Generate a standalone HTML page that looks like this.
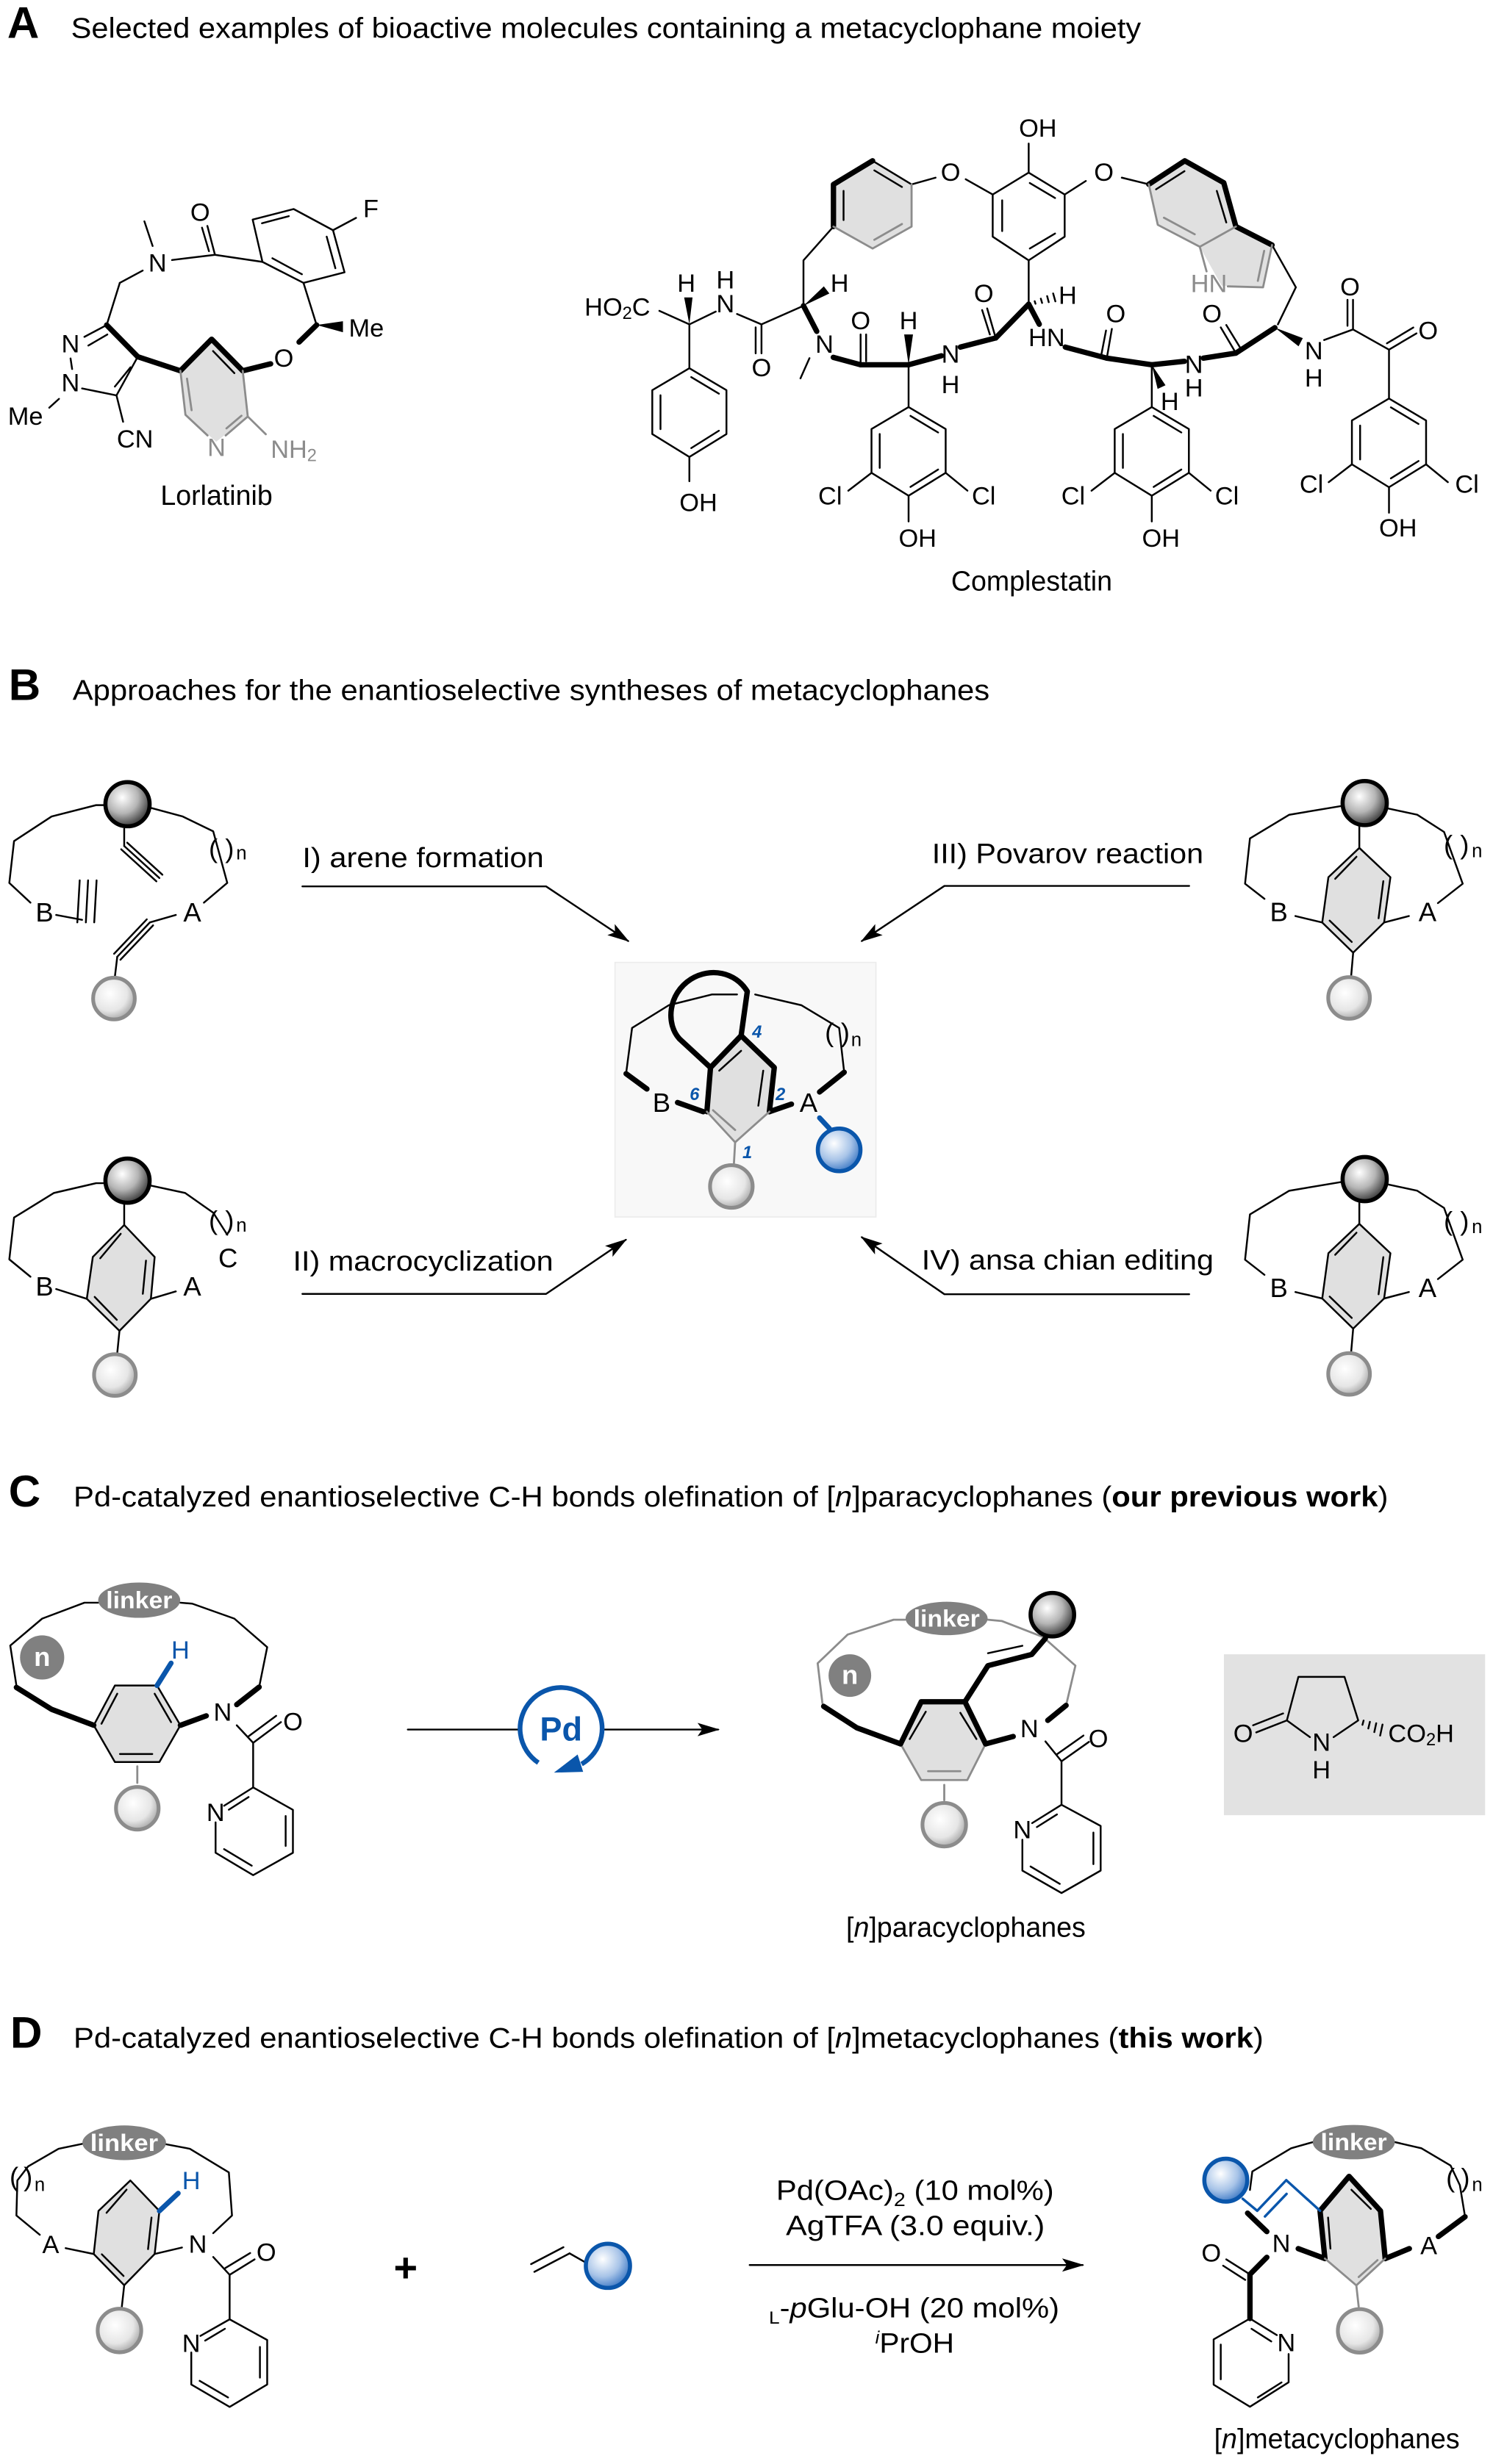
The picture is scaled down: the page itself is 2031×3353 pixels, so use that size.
<!DOCTYPE html>
<html><head><meta charset="utf-8">
<style>
html,body{margin:0;padding:0;background:#fff}
svg{display:block}
text{font-family:"Liberation Sans",Arial,sans-serif;fill:#000}
.k{stroke:#000;stroke-width:1.15;fill:none;stroke-linecap:round;stroke-linejoin:round}
.w{stroke:#000;stroke-width:3.4;fill:none;stroke-linecap:round;stroke-linejoin:round}
.g{stroke:#8c8c8c;stroke-width:1.15;fill:none;stroke-linecap:round;stroke-linejoin:round}
.gw{stroke:#8c8c8c;stroke-width:1.3;fill:none;stroke-linecap:round;stroke-linejoin:round}
.bl{stroke:#0a56ab;stroke-width:1.6;fill:none;stroke-linecap:round;stroke-linejoin:round}
.blw{stroke:#0a56ab;stroke-width:3.2;fill:none;stroke-linecap:round}
.sh{fill:#e0e0e0;stroke:none}
.l{font-size:16px;text-anchor:middle;dominant-baseline:central}
.ls{font-size:16px;text-anchor:start;dominant-baseline:central}
.lg{font-size:16px;text-anchor:middle;dominant-baseline:central;fill:#8c8c8c}
.lb{font-size:17px;text-anchor:middle;dominant-baseline:central}
.ttl{font-size:18px}
.big{font-size:28px;font-weight:bold}
.cap{font-size:17.5px}
.num{font-size:11px;font-weight:bold;font-style:italic;fill:#0a56ab;text-anchor:middle;dominant-baseline:central}
.lk{font-size:15px;font-weight:bold;fill:#fff;text-anchor:middle;dominant-baseline:central}
.bb{fill:url(#gB);stroke:#000;stroke-width:2.6}
.gb{fill:url(#gG);stroke:#8c8c8c;stroke-width:2.4}
.ub{fill:url(#gU);stroke:#0a56ab;stroke-width:2.6}
</style></head><body>
<svg width="2031" height="3353" viewBox="0 0 946 1561.7" preserveAspectRatio="none" xmlns="http://www.w3.org/2000/svg">
<defs>
<radialGradient id="gB" cx="0.38" cy="0.35" r="0.72"><stop offset="0" stop-color="#fff"/><stop offset="0.5" stop-color="#b5b5b5"/><stop offset="1" stop-color="#262626"/></radialGradient>
<radialGradient id="gG" cx="0.4" cy="0.38" r="0.7"><stop offset="0" stop-color="#fff"/><stop offset="0.6" stop-color="#e6e6e6"/><stop offset="1" stop-color="#9a9a9a"/></radialGradient>
<radialGradient id="gU" cx="0.38" cy="0.35" r="0.72"><stop offset="0" stop-color="#fff"/><stop offset="0.55" stop-color="#a8c4e8"/><stop offset="1" stop-color="#2f6fc0"/></radialGradient>
<marker id="ah" markerWidth="14" markerHeight="10" refX="13" refY="5" orient="auto" markerUnits="userSpaceOnUse"><path d="M0,0.8 L14,5 L0,9.2 L3,5 z" fill="#000"/></marker>
</defs>

<!-- ================= TITLES ================= -->
<text x="4.6" y="24" class="big">A</text>
<text x="45" y="24" class="ttl" textLength="678" lengthAdjust="spacingAndGlyphs">Selected examples of bioactive molecules containing a metacyclophane moiety</text>
<text x="5.5" y="443.6" class="big">B</text>
<text x="46" y="443.6" class="ttl" textLength="581" lengthAdjust="spacingAndGlyphs">Approaches for the enantioselective syntheses of metacyclophanes</text>
<text x="5.5" y="954.8" class="big">C</text>
<text x="46.6" y="954.8" class="ttl" textLength="833" lengthAdjust="spacingAndGlyphs">Pd-catalyzed enantioselective C-H bonds olefination of [<tspan font-style="italic">n</tspan>]paracyclophanes (<tspan font-weight="bold">our previous work</tspan>)</text>
<text x="6.5" y="1297.9" class="big">D</text>
<text x="46.6" y="1297.9" class="ttl" textLength="754" lengthAdjust="spacingAndGlyphs">Pd-catalyzed enantioselective C-H bonds olefination of [<tspan font-style="italic">n</tspan>]metacyclophanes (<tspan font-weight="bold">this work</tspan>)</text>

<!-- ================= LORLATINIB ================= -->
<polygon class="sh" points="153.8,235 134.1,215 114.3,235 117.5,262.9 137,280 157,264"/>
<g class="k">
<line x1="91.5" y1="140.3" x2="96.7" y2="155.9"/>
<line x1="109" y1="164.8" x2="136.2" y2="161.5"/>
<line x1="136.2" y1="161.5" x2="131.4" y2="143.2"/>
<line x1="132.4" y1="159.2" x2="128" y2="144.3"/>
<line x1="136.2" y1="161.5" x2="166.3" y2="166"/>
<polygon points="166.3,166 160.1,139.2 186.1,132.5 211,145.9 218.3,172.6 192.3,179.3"/>
<line x1="166" y1="141.5" x2="183" y2="137"/>
<line x1="207" y1="150" x2="212.5" y2="170"/>
<line x1="172.6" y1="163.7" x2="191.3" y2="173.8"/>
<line x1="211" y1="145.9" x2="225.6" y2="138.1"/>
<line x1="192.3" y1="179.3" x2="200.6" y2="206"/>
<line x1="67.6" y1="206" x2="75.9" y2="179.3"/>
<line x1="75.9" y1="179.3" x2="90.4" y2="171.5"/>
<line x1="67.6" y1="206" x2="53.5" y2="213.5"/>
<line x1="68" y1="212" x2="56" y2="219"/>
<line x1="44.7" y1="227.2" x2="45.7" y2="233.9"/>
<line x1="52" y1="246.2" x2="73.8" y2="250.6"/>
<line x1="87.3" y1="226.1" x2="73.8" y2="250.6"/>
<line x1="82.7" y1="232.8" x2="72.8" y2="245"/>
<line x1="37.4" y1="252.8" x2="31.2" y2="258.4"/>
<line x1="73.8" y1="250.6" x2="78" y2="267.3"/>
<line x1="135" y1="222.5" x2="148.5" y2="236.5"/>
</g>
<g class="w">
<line x1="200.6" y1="206" x2="189.5" y2="216.8"/>
<line x1="171.5" y1="230.6" x2="153.8" y2="235"/>
<polyline points="153.8,235 134.1,215 114.3,235"/>
<line x1="114.3" y1="235" x2="87.3" y2="226.1"/>
<line x1="67.6" y1="206" x2="87.3" y2="226.1"/>
</g>
<g class="gw">
<polyline points="114.3,235 117.5,262.9 131.5,276"/>
<polyline points="143,276 157,264 153.8,235"/>
<line x1="118.5" y1="240" x2="121.4" y2="260"/>
<line x1="143.5" y1="271.5" x2="153" y2="263.5"/>
<line x1="157" y1="264" x2="168.4" y2="275.2"/>
</g>
<polygon fill="#000" points="200.6,206 217.3,203.6 217.3,210.6"/>
<text x="99.8" y="167" class="l">N</text>
<text x="126.8" y="134.8" class="l">O</text>
<text x="235" y="132.5" class="l">F</text>
<text x="221" y="208.3" class="ls">Me</text>
<text x="179.8" y="227.2" class="l">O</text>
<text x="137.2" y="283.9" class="lg">N</text>
<text x="171.5" y="285" class="ls" style="fill:#8c8c8c">NH<tspan font-size="11" dy="4">2</tspan></text>
<text x="44.7" y="218.3" class="l">N</text>
<text x="44.7" y="242.8" class="l">N</text>
<text x="5" y="264" class="ls">Me</text>
<text x="74" y="278.5" class="ls">CN</text>
<text x="137.2" y="314" class="cap" text-anchor="middle" dominant-baseline="central">Lorlatinib</text>

<!-- ================= COMPLESTATIN ================= -->
<polygon class="sh" points="552.9,101.9 577.6,116.9 577.6,143.6 552.9,157.5 528.1,143.6 528.1,116.9"/>
<polygon class="sh" points="727.9,116.8 750.7,101.9 775.4,115.8 783.1,143.6 806,155.3 800.3,182.1 774,181 760.2,156.4 733.6,142.5"/>
<g class="k">
<line x1="552.9" y1="101.9" x2="577.6" y2="116.9"/>
<line x1="554" y1="108" x2="571.5" y2="118.5"/>
<line x1="534.5" y1="121" x2="534.5" y2="139.5"/>
<line x1="577.6" y1="116.9" x2="592.8" y2="112.6"/>
<line x1="611.9" y1="113.6" x2="629" y2="123.3"/>
<polygon points="651.8,109.4 674.6,123.3 674.6,150 651.8,165 629,150 629,123.3"/>
<line x1="652.5" y1="116" x2="668.5" y2="125.5"/>
<line x1="635" y1="127" x2="635" y2="146.5"/>
<line x1="668.5" y1="148" x2="652.5" y2="157.5"/>
<line x1="651.8" y1="109.4" x2="651.8" y2="91"/>
<line x1="674.6" y1="123.3" x2="688" y2="114.7"/>
<line x1="710.8" y1="112.6" x2="727.9" y2="116.8"/>
<line x1="732.5" y1="120" x2="750.5" y2="108.5"/>
<line x1="771" y1="121" x2="777" y2="141"/>
<polyline points="806,155.3 821.1,182.1 809.7,205.6"/>
<line x1="417.8" y1="197" x2="436.8" y2="205.6"/>
<line x1="436.8" y1="205.6" x2="453.5" y2="197.5"/>
<line x1="467" y1="199" x2="482.5" y2="205.6"/>
<line x1="482.5" y1="205.6" x2="482.5" y2="224"/>
<line x1="478.8" y1="207.5" x2="478.8" y2="224"/>
<line x1="482.5" y1="205.6" x2="509.1" y2="193.8"/>
<polyline points="509.1,193.8 509.1,165 528.1,143.6"/>
<line x1="512.9" y1="227" x2="507.2" y2="239.8"/>
<line x1="545.3" y1="231.2" x2="545.3" y2="212"/>
<line x1="548.8" y1="229" x2="548.8" y2="212"/>
<line x1="575.7" y1="231.2" x2="575.7" y2="258"/>
<line x1="630.9" y1="214.2" x2="625.5" y2="195.5"/>
<line x1="627.2" y1="212" x2="622.3" y2="196.5"/>
<line x1="651.8" y1="192.8" x2="651.8" y2="165"/>
<line x1="655.6" y1="190.9" x2="656.1" y2="192.5"/>
<line x1="659.5" y1="189.3" x2="660.3" y2="192"/>
<line x1="663.5" y1="187.7" x2="664.5" y2="191.5"/>
<line x1="667.3" y1="186" x2="668.7" y2="191"/>
<line x1="701.3" y1="227" x2="704.5" y2="208.5"/>
<line x1="697.8" y1="225" x2="700.8" y2="209.5"/>
<line x1="729.8" y1="231.2" x2="729.8" y2="258"/>
<line x1="783.1" y1="223.8" x2="773.5" y2="207.5"/>
<line x1="786.5" y1="221.5" x2="777" y2="206"/>
<line x1="839" y1="215.5" x2="857.3" y2="208.8"/>
<line x1="857.3" y1="208.8" x2="857.3" y2="190"/>
<line x1="853.8" y1="206.5" x2="853.8" y2="190"/>
<line x1="857.3" y1="208.8" x2="880.1" y2="221.6"/>
<line x1="880.1" y1="221.6" x2="897.5" y2="211.3"/>
<line x1="878.8" y1="217.6" x2="895.5" y2="207.6"/>
<line x1="880.1" y1="221.6" x2="880.1" y2="252.6"/>
<line x1="436.8" y1="205.6" x2="436.8" y2="233.4"/>
<polygon points="436.8,233.4 460.3,247.3 460.3,275.1 436.8,289.6 413.3,275.1 413.3,247.3"/>
<line x1="438" y1="239" x2="455.5" y2="249.5"/>
<line x1="455.5" y1="273" x2="438" y2="284"/>
<line x1="418.5" y1="250.5" x2="418.5" y2="272"/>
<line x1="436.8" y1="289.6" x2="436.8" y2="305"/>
<polygon points="575.7,258 599.2,271.9 599.2,299.7 575.7,314.2 552.2,299.7 552.2,271.9"/>
<line x1="576.9" y1="263.6" x2="594.4" y2="274.1"/>
<line x1="594.4" y1="297.6" x2="576.9" y2="308.6"/>
<line x1="557.4" y1="275.1" x2="557.4" y2="296.6"/>
<line x1="552.2" y1="299.7" x2="537.5" y2="311"/>
<line x1="599.2" y1="299.7" x2="613" y2="311"/>
<line x1="575.7" y1="314.2" x2="575.7" y2="330.5"/>
<polygon points="729.8,258 753.3,271.9 753.3,299.7 729.8,314.2 706.3,299.7 706.3,271.9"/>
<line x1="731" y1="263.6" x2="748.5" y2="274.1"/>
<line x1="748.5" y1="297.6" x2="731" y2="308.6"/>
<line x1="711.5" y1="275.1" x2="711.5" y2="296.6"/>
<line x1="706.3" y1="299.7" x2="691.6" y2="311"/>
<line x1="753.3" y1="299.7" x2="767.1" y2="311"/>
<line x1="729.8" y1="314.2" x2="729.8" y2="330.5"/>
<polygon points="880.1,252.6 903.6,266.5 903.6,294.3 880.1,308.8 856.6,294.3 856.6,266.5"/>
<line x1="881.3" y1="258.2" x2="898.8" y2="268.7"/>
<line x1="898.8" y1="292.2" x2="881.3" y2="303.2"/>
<line x1="861.8" y1="269.7" x2="861.8" y2="291.2"/>
<line x1="856.6" y1="294.3" x2="841.9" y2="305.6"/>
<line x1="903.6" y1="294.3" x2="917.4" y2="305.6"/>
<line x1="880.1" y1="308.8" x2="880.1" y2="325"/>
</g>
<g class="w">
<polyline points="528.1,143.6 528.1,116.9 552.9,101.9"/>
<polyline points="727.9,116.8 750.7,101.9 775.4,115.8 783.1,143.6 806,155.3"/>
<line x1="509.1" y1="193.8" x2="517.5" y2="210"/>
<line x1="528" y1="226.5" x2="545.3" y2="231.2"/>
<line x1="545.3" y1="231.2" x2="575.7" y2="231.2"/>
<line x1="575.7" y1="231.2" x2="596.5" y2="225.5"/>
<line x1="608.5" y1="220" x2="630.9" y2="214.2"/>
<line x1="630.9" y1="214.2" x2="651.8" y2="192.8"/>
<line x1="651.8" y1="192.8" x2="658.5" y2="205.5"/>
<line x1="675" y1="220" x2="701.3" y2="227"/>
<line x1="701.3" y1="227" x2="729.8" y2="231.2"/>
<line x1="729.8" y1="231.2" x2="750.5" y2="229"/>
<line x1="762.5" y1="227" x2="783.1" y2="223.8"/>
<line x1="783.1" y1="223.8" x2="807.8" y2="207.7"/>
</g>
<g class="gw">
<polyline points="577.6,116.9 577.6,143.6 552.9,157.5 528.1,143.6"/>
<line x1="571.5" y1="142" x2="554" y2="152"/>
<line x1="783.1" y1="143.6" x2="760.2" y2="156.4"/>
<polyline points="760.2,156.4 733.6,142.5 727.9,116.8"/>
<line x1="737.5" y1="138" x2="757" y2="148.5"/>
<line x1="760.2" y1="156.4" x2="764.5" y2="172"/>
<polyline points="778,181.5 800.3,182.1 806,155.3"/>
<line x1="801" y1="159" x2="797" y2="178"/>
</g>
<polygon fill="#000" points="436.8,205.6 433.5,188.5 438.8,188.5"/>
<polygon fill="#000" points="509.1,193.8 525.5,186 522,181.5"/>
<polygon fill="#000" points="575.7,231.2 572.9,212 578.5,212"/>
<polygon fill="#000" points="729.8,231.2 733.5,246.5 738.5,244.2"/>
<polygon fill="#000" points="807.8,207.7 825.5,214.3 822.8,219.5"/>
<text x="602.3" y="109.4" class="l">O</text>
<text x="699.4" y="109.4" class="l">O</text>
<text x="657.6" y="81.6" class="l">OH</text>
<text x="766" y="180" class="lg">HN</text>
<text x="391.2" y="194.9" class="l">HO<tspan font-size="11" dy="4">2</tspan><tspan dy="-4">C</tspan></text>
<text x="434.9" y="179.9" class="l">H</text>
<text x="459.6" y="177.8" class="l">H</text>
<text x="459.6" y="192.8" class="l">N</text>
<text x="482.5" y="233.4" class="l">O</text>
<text x="532" y="179.9" class="l">H</text>
<text x="522.4" y="218.4" class="l">N</text>
<text x="545.3" y="203.5" class="l">O</text>
<text x="575.7" y="203.5" class="l">H</text>
<text x="602.3" y="224.8" class="l">N</text>
<text x="602.3" y="244" class="l">H</text>
<text x="623.3" y="186.4" class="l">O</text>
<text x="676.5" y="187.4" class="l">H</text>
<text x="663.2" y="214.2" class="l">HN</text>
<text x="707" y="199.2" class="l">O</text>
<text x="741.2" y="254.8" class="l">H</text>
<text x="756.5" y="231.2" class="l">N</text>
<text x="756.5" y="246.2" class="l">H</text>
<text x="767.9" y="199.2" class="l">O</text>
<text x="832.5" y="222.7" class="l">N</text>
<text x="832.5" y="239.8" class="l">H</text>
<text x="855.4" y="182.1" class="l">O</text>
<text x="904.9" y="209.9" class="l">O</text>
<text x="442.5" y="318.9" class="l">OH</text>
<text x="526" y="314.7" class="l">Cl</text>
<text x="623.3" y="314.7" class="l">Cl</text>
<text x="581.4" y="341.4" class="l">OH</text>
<text x="680" y="314.7" class="l">Cl</text>
<text x="777.4" y="314.7" class="l">Cl</text>
<text x="735.6" y="341.4" class="l">OH</text>
<text x="831" y="307.2" class="l">Cl</text>
<text x="929.5" y="307.2" class="l">Cl</text>
<text x="885.8" y="335" class="l">OH</text>
<text x="653.7" y="368.1" class="cap" text-anchor="middle" dominant-baseline="central">Complestatin</text>

<!-- ================= PANEL B ================= -->
<g class="k">
<polyline points="66,510.3 60.9,510.3 32.7,517.5 8.9,533.1 5.9,559.6 19.3,572.1"/>
<polyline points="95.5,512 115.8,517.5 135.1,526.9 144,559.6 129.2,572.1"/>
<line x1="78.7" y1="525.3" x2="78.7" y2="536.2"/>
<line x1="78.7" y1="536.2" x2="101" y2="556.5"/>
<line x1="80.6" y1="534.1" x2="102.9" y2="554.4"/>
<line x1="76.8" y1="538.3" x2="99.1" y2="558.6"/>
<line x1="35.6" y1="579.9" x2="52" y2="583"/>
<line x1="50.5" y1="558" x2="49" y2="584.6"/>
<line x1="55.8" y1="558" x2="54.4" y2="584.6"/>
<line x1="61.2" y1="558" x2="59.7" y2="584.6"/>
<line x1="111.4" y1="579.9" x2="95" y2="584.6"/>
<line x1="95" y1="584.6" x2="74.3" y2="606.4"/>
<line x1="97" y1="586.5" x2="76.3" y2="608.3"/>
<line x1="93" y1="582.7" x2="72.3" y2="604.5"/>
<line x1="74.3" y1="606.4" x2="72.8" y2="619"/>
</g>
<circle class="bb" cx="80.8" cy="509.7" r="14"/>
<circle class="gb" cx="72.2" cy="632.9" r="13.2"/>
<text x="28.2" y="578.3" class="lb">B</text>
<text x="121.8" y="578.3" class="lb">A</text>
<text x="135.1" y="537.8" class="lb">(</text>
<text x="145.5" y="537.8" class="lb">)</text>
<text x="153" y="541" class="lb" style="font-size:12px">n</text>

<polygon class="sh" points="78.7,776.4 98,796.7 95.6,823.2 75.7,843.5 55,823.2 58.8,796.7"/>
<g class="k">
<polyline points="66,749.9 60.9,749.9 34.2,756.1 8.9,771.7 5.9,798.2 19.3,809.2"/>
<polyline points="95.5,751.4 117.3,756.1 135.1,768.6 144,782.6"/>
<line x1="78.7" y1="763.3" x2="78.7" y2="776.4"/>
<polygon points="78.7,776.4 98,796.7 95.6,823.2 75.7,843.5 55,823.2 58.8,796.7"/>
<line x1="76.5" y1="782" x2="63.5" y2="797.5"/>
<line x1="92.5" y1="799" x2="90.5" y2="820"/>
<line x1="60" y1="822" x2="74" y2="836.5"/>
<line x1="35.6" y1="817" x2="55" y2="823.2"/>
<line x1="95.6" y1="823.2" x2="111.4" y2="818.5"/>
<line x1="75.7" y1="843.5" x2="74.3" y2="857.5"/>
</g>
<circle class="bb" cx="80.8" cy="748.3" r="14"/>
<circle class="gb" cx="72.8" cy="871.5" r="13.2"/>
<text x="28.2" y="815.4" class="lb">B</text>
<text x="121.8" y="815.4" class="lb">A</text>
<text x="144.5" y="797.5" class="lb">C</text>
<text x="135.1" y="773.3" class="lb">(</text>
<text x="145.5" y="773.3" class="lb">)</text>
<text x="153" y="777" class="lb" style="font-size:12px">n</text>

<text x="191.6" y="549.6" class="cap" textLength="153" lengthAdjust="spacingAndGlyphs">I) arene formation</text>
<polyline class="k" points="191.6,561.8 346,561.8 398,596.4" marker-end="url(#ah)"/>
<text x="185.6" y="805.4" class="cap" textLength="165" lengthAdjust="spacingAndGlyphs">II) macrocyclization</text>
<polyline class="k" points="191.6,820.1 346,820.1 396.5,785.8" marker-end="url(#ah)"/>
<text x="590.5" y="547" class="cap" textLength="172" lengthAdjust="spacingAndGlyphs">III) Povarov reaction</text>
<polyline class="k" points="753.5,561.5 598.4,561.5 546.1,596.4" marker-end="url(#ah)"/>
<text x="584" y="804.7" class="cap" textLength="185" lengthAdjust="spacingAndGlyphs">IV) ansa chian editing</text>
<polyline class="k" points="753.5,820.3 598.4,820.3 546.1,784.2" marker-end="url(#ah)"/>

<rect x="389.7" y="610" width="165.3" height="161.3" fill="#f8f8f8" stroke="#ececec" stroke-width="0.8"/>
<polygon class="sh" points="469.6,656.4 490.6,676.6 487.5,704.6 465.8,724 447.9,704.6 450.2,676.6"/>
<path class="w" d="M450.2,676.6 L430.4,658.3 C422,649 423,630 437.8,620.6 C450,613 466,616 473.5,628.4 L469.6,656.4"/>
<g class="k">
<polyline points="396.7,680.5 400.5,651.5 423.8,637.1 451,630.3 467,630.3"/>
<polyline points="478.5,630.3 507.7,637.1 531.7,651.5 534.9,679.6"/>
<line x1="455.7" y1="678.6" x2="469.6" y2="666"/>
<line x1="483.6" y1="678.6" x2="480.5" y2="700.8"/>
</g>
<g class="w">
<polyline points="396.7,680.5 409.9,690.2"/>
<line x1="429.3" y1="698.8" x2="445.6" y2="704.6"/>
<polyline points="534.9,679.6 519.3,692.1"/>
<polyline points="447.9,704.6 450.2,676.6 469.6,656.4 490.6,676.6 487.5,704.6"/>
<line x1="487.5" y1="704.6" x2="501.5" y2="699.8"/>
</g>
<g class="gw">
<polyline points="487.5,704.6 465.8,724 447.9,704.6"/>
<line x1="451.8" y1="703.7" x2="465.8" y2="716.2"/>
<line x1="465.8" y1="724" x2="465" y2="738"/>
</g>
<line class="blw" x1="519.3" y1="708.5" x2="525.5" y2="715.2"/>
<circle class="gb" cx="463.4" cy="752" r="13.5"/>
<circle class="ub" cx="531.7" cy="728.8" r="13.5"/>
<text x="419.2" y="698.8" class="lb">B</text>
<text x="512.3" y="698.8" class="lb">A</text>
<text x="525.5" y="654.4" class="lb">(</text>
<text x="535.6" y="654.4" class="lb">)</text>
<text x="542.6" y="659.3" class="lb" style="font-size:12px">n</text>
<text x="479.7" y="654.4" class="num">4</text>
<text x="440.1" y="694" class="num">6</text>
<text x="494.5" y="694" class="num">2</text>
<text x="473.5" y="730.7" class="num">1</text>

<g>
<polygon class="sh" points="861.3,537.4 881,556 877,584.7 857.4,603.8 837.8,584.7 841.7,556"/>
<g class="k">
<polyline points="850,510.9 849.6,510.9 816.9,516.4 792,531.4 788.9,560.1 801.2,569.7"/>
<polyline points="879,512.3 898,516.4 915,527.3 926.8,560.1 911.1,572.4"/>
<line x1="861.3" y1="522.6" x2="861.3" y2="537.4"/>
<polygon points="861.3,537.4 881,556 877,584.7 857.4,603.8 837.8,584.7 841.7,556"/>
<line x1="859.5" y1="543" x2="846" y2="557"/>
<line x1="876.5" y1="558.5" x2="873.5" y2="582"/>
<line x1="842.5" y1="583.5" x2="856.5" y2="597"/>
<line x1="820.8" y1="580.6" x2="837.8" y2="584.7"/>
<line x1="877" y1="584.7" x2="892.7" y2="580.6"/>
<line x1="857.4" y1="603.8" x2="856.1" y2="618.9"/>
</g>
<circle class="bb" cx="864.7" cy="509" r="14"/>
<circle class="gb" cx="854.8" cy="632.5" r="13.2"/>
<text x="810.3" y="577.9" class="lb">B</text>
<text x="904.5" y="577.9" class="lb">A</text>
<text x="917.6" y="535.5" class="lb">(</text>
<text x="928" y="535.5" class="lb">)</text>
<text x="935.9" y="539.6" class="lb" style="font-size:12px">n</text>
</g>
<g transform="translate(0,238.3)">
<polygon class="sh" points="861.3,537.4 881,556 877,584.7 857.4,603.8 837.8,584.7 841.7,556"/>
<g class="k">
<polyline points="850,510.9 849.6,510.9 816.9,516.4 792,531.4 788.9,560.1 801.2,569.7"/>
<polyline points="879,512.3 898,516.4 915,527.3 926.8,560.1 911.1,572.4"/>
<line x1="861.3" y1="522.6" x2="861.3" y2="537.4"/>
<polygon points="861.3,537.4 881,556 877,584.7 857.4,603.8 837.8,584.7 841.7,556"/>
<line x1="859.5" y1="543" x2="846" y2="557"/>
<line x1="876.5" y1="558.5" x2="873.5" y2="582"/>
<line x1="842.5" y1="583.5" x2="856.5" y2="597"/>
<line x1="820.8" y1="580.6" x2="837.8" y2="584.7"/>
<line x1="877" y1="584.7" x2="892.7" y2="580.6"/>
<line x1="857.4" y1="603.8" x2="856.1" y2="618.9"/>
</g>
<circle class="bb" cx="864.7" cy="509" r="14"/>
<circle class="gb" cx="854.8" cy="632.5" r="13.2"/>
<text x="810.3" y="577.9" class="lb">B</text>
<text x="904.5" y="577.9" class="lb">A</text>
<text x="917.6" y="535.5" class="lb">(</text>
<text x="928" y="535.5" class="lb">)</text>
<text x="935.9" y="539.6" class="lb" style="font-size:12px">n</text>
</g>

<!-- ================= PANEL C ================= -->
<polygon class="sh" points="72.8,1068.3 99.5,1068.3 114.3,1093.5 101,1116.8 72.8,1116.8 59.4,1093.5"/>
<g class="k">
<polyline points="62.2,1015.8 53.5,1015.8 26.7,1025.9 6.5,1043 10.4,1068.3"/>
<polyline points="114.3,1015.8 121.8,1016.4 148.5,1025.9 169.3,1044 164.2,1069.3"/>
<polygon points="72.8,1068.3 99.5,1068.3 114.3,1093.5 101,1116.8 72.8,1116.8 59.4,1093.5"/>
<line x1="74.3" y1="1073.5" x2="64.3" y2="1092.5"/>
<line x1="98" y1="1073.5" x2="108.4" y2="1091.5"/>
<line x1="76" y1="1111.7" x2="96.5" y2="1111.7"/>
<line x1="150" y1="1093.5" x2="160.4" y2="1104.6"/>
<line x1="160.4" y1="1104.6" x2="178" y2="1091.5"/>
<line x1="157.5" y1="1100.5" x2="175" y2="1087.5"/>
<line x1="160.4" y1="1104.6" x2="160.4" y2="1132.9"/>
<line x1="160.4" y1="1132.9" x2="142" y2="1144.5"/>
<line x1="157.5" y1="1139" x2="145" y2="1147"/>
<polyline points="136.6,1155 136.6,1174.3 160.4,1188.5 185.6,1174.3 185.6,1147.1 160.4,1132.9"/>
<line x1="142" y1="1172" x2="159.5" y2="1182.5"/>
<line x1="181" y1="1170" x2="181" y2="1151"/>
</g>
<g class="w">
<polyline points="10.4,1069.5 32.7,1083.4 59.4,1093.5"/>
<polyline points="164.2,1069.3 150,1080.4"/>
<line x1="114.3" y1="1093.5" x2="130.7" y2="1087.5"/>
</g>
<line class="gw" x1="87" y1="1119.5" x2="87" y2="1130"/>
<line class="blw" x1="99.5" y1="1068.3" x2="108.4" y2="1054.1"/>
<ellipse cx="88.2" cy="1014.2" rx="26" ry="11.2" fill="#808080"/>
<text x="88.2" y="1014.2" class="lk" textLength="42" lengthAdjust="spacingAndGlyphs">linker</text>
<circle cx="26.7" cy="1050.5" r="14" fill="#808080"/>
<text x="26.7" y="1050" class="lk" style="font-size:17px">n</text>
<circle class="gb" cx="87" cy="1146.1" r="13.5"/>
<text x="114.3" y="1046.1" class="l" style="fill:#0a56ab">H</text>
<text x="141.1" y="1085.5" class="l">N</text>
<text x="185.6" y="1091.5" class="l">O</text>
<text x="136.6" y="1149" class="l">N</text>

<line class="k" x1="258.4" y1="1096.2" x2="329.5" y2="1096.2"/>
<line class="k" x1="381.5" y1="1096.2" x2="455" y2="1096.2" marker-end="url(#ah)"/>
<path d="M341.1,1117.2 A26,26 0 1 1 368.5,1118.1" fill="none" stroke="#0a56ab" stroke-width="3"/>
<polygon points="351,1123.5 366,1112 369.5,1123" fill="#0a56ab"/>
<text x="355.5" y="1096" text-anchor="middle" dominant-baseline="central" style="font-size:21px;font-weight:bold;fill:#0a56ab">Pd</text>

<polygon class="sh" points="583.7,1078.6 611.4,1078.6 624.5,1105.3 612.9,1128.2 583.7,1128.2 570.6,1105.3"/>
<g class="gw">
<polyline points="573.5,1026.6 566.2,1026.6 537.1,1036 518.1,1054.2 521.1,1079.5"/>
<polyline points="626,1026.6 634.7,1027.4 661,1037.6 681.4,1055.7 675.5,1080.9"/>
<polyline points="624.5,1105.3 612.9,1128.2 583.7,1128.2 570.6,1105.3"/>
<line x1="588.1" y1="1122.6" x2="608.5" y2="1122.6"/>
<line x1="598.3" y1="1131.3" x2="598.3" y2="1141"/>
</g>
<g class="w">
<polyline points="521.9,1081.5 542.9,1095.1 570.6,1105.3"/>
<polyline points="675.5,1080.9 663.9,1090.4"/>
<polyline points="570.6,1105.3 583.7,1078.6 611.4,1078.6 624.5,1105.3"/>
<polyline points="611.4,1078.6 626,1055.7 653.7,1048.6 662.4,1038.4"/>
<line x1="624.5" y1="1105.3" x2="642" y2="1100.6"/>
</g>
<g class="k">
<line x1="586.6" y1="1084.9" x2="576.4" y2="1102.2"/>
<line x1="608.5" y1="1085.6" x2="618.7" y2="1102.2"/>
<line x1="626" y1="1047.8" x2="647.8" y2="1043.1"/>
<line x1="662.4" y1="1103.7" x2="672.6" y2="1116.3"/>
<line x1="672.6" y1="1116.3" x2="690" y2="1104"/>
<line x1="669.5" y1="1112" x2="686.5" y2="1100"/>
<line x1="672.6" y1="1116.3" x2="672.6" y2="1143.9"/>
<line x1="672.6" y1="1143.9" x2="654" y2="1155.5"/>
<line x1="669.7" y1="1150" x2="657" y2="1158"/>
<polyline points="647.8,1166 647.8,1185.6 672.6,1199.8 697.4,1185.6 697.4,1157.3 672.6,1143.9"/>
<line x1="653" y1="1183" x2="671.5" y2="1194"/>
<line x1="692.8" y1="1181.5" x2="692.8" y2="1161.5"/>
</g>
<ellipse cx="599.8" cy="1025.8" rx="26" ry="10.6" fill="#808080"/>
<text x="599.8" y="1025.8" class="lk" textLength="42" lengthAdjust="spacingAndGlyphs">linker</text>
<circle cx="538.5" cy="1062" r="13.5" fill="#808080"/>
<text x="538.5" y="1061.5" class="lk" style="font-size:17px">n</text>
<circle class="bb" cx="666.8" cy="1023.4" r="13.8"/>
<circle class="gb" cx="598.3" cy="1156.5" r="13.8"/>
<text x="652.2" y="1095.9" class="l">N</text>
<text x="695.9" y="1102.2" class="l">O</text>
<text x="647.8" y="1160" class="l">N</text>
<text x="612" y="1221.5" class="cap" text-anchor="middle" dominant-baseline="central">[<tspan font-style="italic">n</tspan>]paracyclophanes</text>

<rect x="775.5" y="1048.5" width="165.5" height="102" fill="#e2e2e2"/>
<g class="k">
<polyline points="830,1101 815.4,1090.4 822.7,1062.8 851.9,1062.8 860.6,1090.4 845,1101"/>
<line x1="815.4" y1="1090.4" x2="796" y2="1098"/>
<line x1="813" y1="1086" x2="794" y2="1093.5"/>
<line x1="864" y1="1090.5" x2="863.3" y2="1093.2"/>
<line x1="868" y1="1091.3" x2="867" y2="1095.5"/>
<line x1="872" y1="1092.2" x2="870.8" y2="1097.8"/>
<line x1="876" y1="1093" x2="874.5" y2="1100"/>
</g>
<text x="787.7" y="1099" class="l">O</text>
<text x="837.3" y="1104.5" class="l">N</text>
<text x="837.3" y="1122" class="l">H</text>
<text x="879.6" y="1099" class="ls">CO<tspan font-size="11" dy="4">2</tspan><tspan dy="-4">H</tspan></text>

<!-- ================= PANEL D ================= -->
<polygon class="sh" points="82.6,1382 101,1401.3 98,1428.6 78.7,1448.4 59.4,1428.6 62.4,1401.3"/>
<g class="k">
<polyline points="52.5,1358.7 37.1,1361.9 17.8,1373.1 11,1382 10.4,1404.2 25.2,1416.4"/>
<polyline points="105,1359 120.3,1361.9 145,1376.9 147,1404.2 135.1,1415.4"/>
<polygon points="82.6,1382 101,1401.3 98,1428.6 78.7,1448.4 59.4,1428.6 62.4,1401.3"/>
<line x1="80.2" y1="1387.8" x2="67.5" y2="1402.5"/>
<line x1="96" y1="1405.5" x2="93.8" y2="1425.5"/>
<line x1="64.5" y1="1428.8" x2="78.3" y2="1442.5"/>
<line x1="41.6" y1="1424.9" x2="59.4" y2="1428.6"/>
<line x1="98" y1="1428.6" x2="115.3" y2="1424.5"/>
<line x1="135.1" y1="1430.5" x2="145.5" y2="1441.8"/>
<line x1="145.5" y1="1441.8" x2="161.3" y2="1432"/>
<line x1="142.8" y1="1437.5" x2="158.5" y2="1428"/>
<line x1="145.5" y1="1441.8" x2="145.5" y2="1470"/>
<line x1="145.5" y1="1470" x2="127" y2="1480.5"/>
<line x1="142.5" y1="1476" x2="130" y2="1483.5"/>
<polyline points="121.2,1491 121.2,1511.3 145.5,1525.5 169.3,1511.3 169.3,1483.1 145.5,1470"/>
<line x1="126.5" y1="1509" x2="144.5" y2="1519.5"/>
<line x1="164.7" y1="1507" x2="164.7" y2="1487.5"/>
<line x1="78.7" y1="1448.4" x2="77.2" y2="1462"/>
</g>
<line class="blw" x1="101" y1="1401.3" x2="112.9" y2="1390.1"/>
<ellipse cx="78.7" cy="1358.1" rx="26.5" ry="11" fill="#808080"/>
<text x="78.7" y="1358.1" class="lk" textLength="43" lengthAdjust="spacingAndGlyphs">linker</text>
<circle class="gb" cx="75.7" cy="1477.1" r="13.8"/>
<text x="121.2" y="1382.5" class="l" style="fill:#0a56ab">H</text>
<text x="32.1" y="1423" class="l">A</text>
<text x="125.3" y="1422.6" class="l">N</text>
<text x="168.7" y="1427.7" class="l">O</text>
<text x="121.2" y="1485.5" class="l">N</text>
<text x="8.9" y="1379.7" class="lb">(</text>
<text x="17.8" y="1379.7" class="lb">)</text>
<text x="25.2" y="1385" class="lb" style="font-size:12px">n</text>

<text x="257" y="1437" text-anchor="middle" dominant-baseline="central" style="font-size:26px;font-weight:bold">+</text>
<g class="k">
<line x1="338.6" y1="1439.9" x2="360.9" y2="1428.2"/>
<line x1="336.5" y1="1435" x2="357" y2="1424.3"/>
<line x1="360.9" y1="1428.2" x2="372" y2="1434.5"/>
</g>
<circle class="ub" cx="385.2" cy="1436.1" r="14"/>

<text x="491.8" y="1394.2" class="cap" textLength="176" lengthAdjust="spacingAndGlyphs">Pd(OAc)<tspan font-size="12" dy="4">2</tspan><tspan dy="-4"> (10 mol%)</tspan></text>
<text x="498" y="1416.7" class="cap" textLength="164" lengthAdjust="spacingAndGlyphs">AgTFA (3.0 equiv.)</text>
<line class="k" x1="475" y1="1435.6" x2="686" y2="1435.6" marker-end="url(#ah)"/>
<text x="487.2" y="1468.7" class="cap" textLength="184" lengthAdjust="spacingAndGlyphs"><tspan font-size="11" dy="4">L</tspan><tspan dy="-4">-</tspan><tspan font-style="italic">p</tspan>Glu-OH (20 mol%)</text>
<text x="554.6" y="1491.2" class="cap" textLength="50" lengthAdjust="spacingAndGlyphs"><tspan font-size="11" font-style="italic" dy="-6">i</tspan><tspan dy="6">PrOH</tspan></text>

<polygon class="sh" points="854.8,1379.4 874.7,1401.2 877.7,1431.5 859.4,1448.5 839.5,1431.5 836.4,1401.2"/>
<g class="k">
<polyline points="831.8,1357.7 818,1361.6 793.5,1376.3 792,1388"/>
<polyline points="883.9,1357.7 900.7,1361.6 919.1,1372.5 925,1385 928.3,1405"/>
<line x1="856.3" y1="1387.9" x2="868.6" y2="1400"/>
<line x1="841.5" y1="1405.5" x2="843" y2="1425.2"/>
<line x1="792" y1="1441.5" x2="777" y2="1432"/>
<line x1="789" y1="1445" x2="775" y2="1436"/>
<line x1="792" y1="1469.5" x2="809" y2="1480"/>
<line x1="793" y1="1476" x2="805.5" y2="1484"/>
<polyline points="816.5,1492 816.5,1509.9 792,1525.4 769,1511.4 769,1482.7 792,1469.5"/>
<line x1="797" y1="1519.5" x2="812" y2="1510"/>
<line x1="773.5" y1="1486" x2="773.5" y2="1508"/>
</g>
<g class="w">
<polyline points="928.3,1405 911.4,1417.5"/>
<line x1="790.5" y1="1402.7" x2="802.7" y2="1414.4"/>
<polyline points="839.5,1431.5 836.4,1401.2 854.8,1379.4 874.7,1401.2 877.7,1431.5"/>
<line x1="893" y1="1425.2" x2="877.7" y2="1431.5"/>
<line x1="822.6" y1="1425.2" x2="839.5" y2="1431.5"/>
<line x1="802.7" y1="1430.7" x2="792" y2="1441.5"/>
<line x1="792" y1="1441.5" x2="792" y2="1469.5"/>
</g>
<g class="gw">
<polyline points="877.7,1431.5 859.4,1448.5 839.5,1431.5"/>
<line x1="860.9" y1="1443.2" x2="872.8" y2="1432.5"/>
<line x1="859.4" y1="1448.5" x2="860.9" y2="1462"/>
</g>
<g class="bl">
<polyline points="787.4,1393.6 796.6,1401.2 815,1381.8 836.4,1401.2"/>
<line x1="801.5" y1="1404.8" x2="815.2" y2="1390.5"/>
</g>
<ellipse cx="857.8" cy="1357.7" rx="26" ry="10.9" fill="#808080"/>
<text x="857.8" y="1357.7" class="lk" textLength="42" lengthAdjust="spacingAndGlyphs">linker</text>
<circle class="ub" cx="776.7" cy="1381.8" r="13.6"/>
<circle class="gb" cx="861.5" cy="1477.3" r="13.8"/>
<text x="811.9" y="1422.1" class="l">N</text>
<text x="905.3" y="1423.7" class="l">A</text>
<text x="767.5" y="1428.3" class="l">O</text>
<text x="815" y="1485" class="l">N</text>
<text x="919.1" y="1380.2" class="lb">(</text>
<text x="928.5" y="1380.2" class="lb">)</text>
<text x="936" y="1385" class="lb" style="font-size:12px">n</text>
<text x="847.1" y="1545.6" class="cap" text-anchor="middle" dominant-baseline="central">[<tspan font-style="italic">n</tspan>]metacyclophanes</text>
</svg>
</body></html>
